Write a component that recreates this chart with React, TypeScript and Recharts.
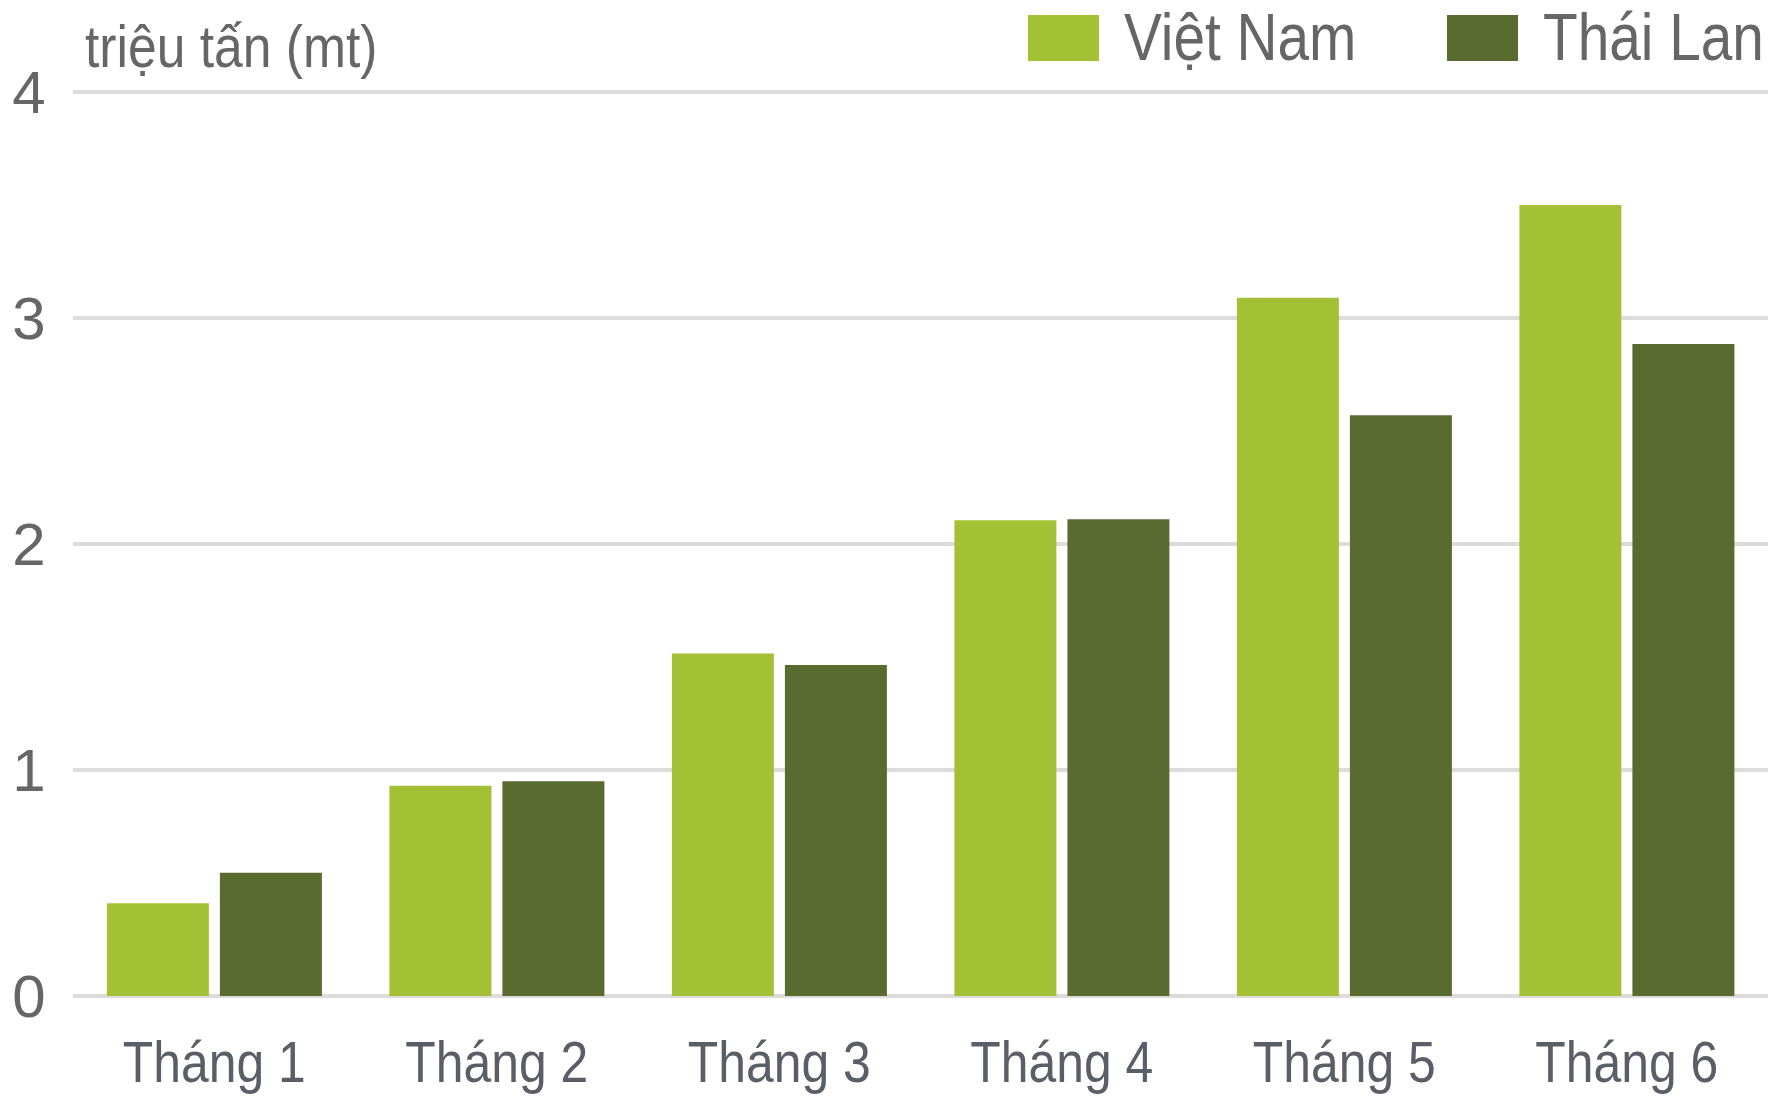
import React from "react";
import { Bar, BarChart, CartesianGrid, XAxis, YAxis } from "recharts";

const months = ["Tháng 1", "Tháng 2", "Tháng 3", "Tháng 4", "Tháng 5", "Tháng 6"];
const vietNam = [0.41, 0.93, 1.515, 2.105, 3.09, 3.5];
const thaiLan = [0.545, 0.95, 1.465, 2.11, 2.57, 2.885];
const yTicks = [0, 1, 2, 3, 4];

const FONT = "'Liberation Sans', Arial, sans-serif";
const NARROW = 0.86; // no narrow font installed, so squeeze horizontally
const VN_FILL = "#a4c034";
const TL_FILL = "#596b2f";

const data = months.map((month, i) => ({
  month,
  vn: vietNam[i],
  tl: thaiLan[i],
}));

function YTick({ y, payload }: any) {
  return (
    <text x={29} y={y} dy={21} textAnchor="middle" fontSize={60} fill="#666" fontFamily={FONT}>
      {payload.value}
    </text>
  );
}

function XTick({ x, payload }: any) {
  return (
    <g transform={`translate(${x},1082) scale(${NARROW},1)`}>
      <text x={0} y={0} textAnchor="middle" fontSize={58} fill="#5a5f67" fontFamily={FONT}>
        {payload.value}
      </text>
    </g>
  );
}

const legendItems = [
  { label: "Việt Nam", color: VN_FILL, left: 1028 },
  { label: "Thái Lan", color: TL_FILL, left: 1447 },
];

function ChartLegend() {
  return (
    <>
      {legendItems.map((it) => (
        <div
          key={it.label}
          style={{
            position: "absolute",
            left: it.left,
            top: 2,
            display: "flex",
            alignItems: "center",
            whiteSpace: "nowrap",
          }}
        >
          <span
            style={{ width: 71, height: 46, background: it.color, display: "inline-block", flexShrink: 0, marginTop: 2 }}
          />
          <span
            style={{
              marginLeft: 25,
              fontSize: 66,
              color: "#666",
              fontFamily: FONT,
              lineHeight: "70px",
              display: "inline-block",
              transform: `scaleX(${NARROW})`,
              transformOrigin: "left center",
            }}
          >
            {it.label}
          </span>
        </div>
      ))}
    </>
  );
}

export default function App() {
  return (
    <div style={{ position: "absolute", left: 0, top: 0, width: 1772, height: 1098, background: "#fff", overflow: "hidden" }}>
      <BarChart
        width={1772}
        height={1098}
        data={data}
        margin={{ top: 92, right: 4, bottom: 72, left: 0 }}
        barCategoryGap="12%"
        barGap={11}
      >
        <CartesianGrid vertical={false} stroke="#dcdcdc" strokeWidth={4} />
        <XAxis dataKey="month" height={30} axisLine={false} tickLine={false} tick={<XTick />} interval={0} />
        <YAxis
          width={73}
          domain={[0, 4]}
          ticks={yTicks}
          axisLine={false}
          tickLine={false}
          tick={<YTick />}
        />
        <Bar dataKey="vn" name="Việt Nam" fill={VN_FILL} isAnimationActive={false} />
        <Bar dataKey="tl" name="Thái Lan" fill={TL_FILL} isAnimationActive={false} />
      </BarChart>
      <div
        style={{
          position: "absolute",
          left: 85,
          top: 2,
          fontSize: 60,
          color: "#666",
          fontFamily: FONT,
          lineHeight: "90px",
          whiteSpace: "nowrap",
          transform: `scaleX(${NARROW})`,
          transformOrigin: "left center",
        }}
      >
        triệu tấn (mt)
      </div>
      <ChartLegend />
    </div>
  );
}
